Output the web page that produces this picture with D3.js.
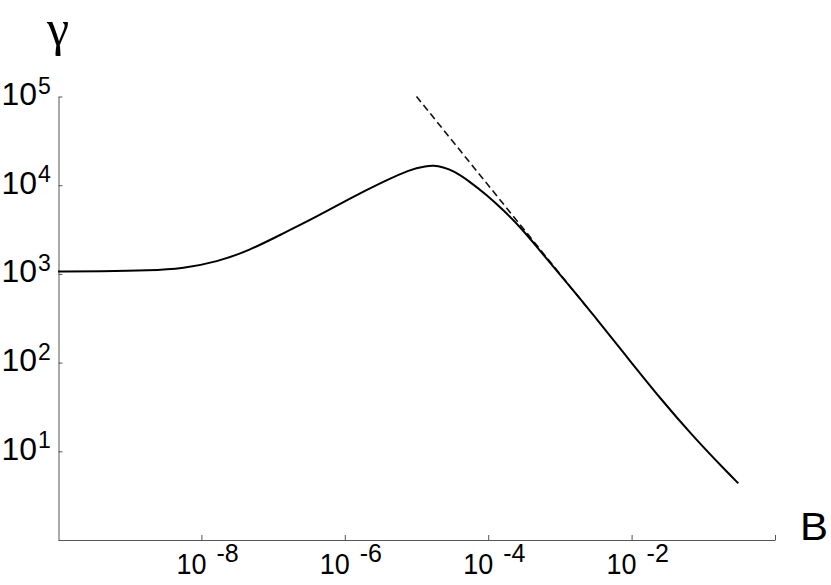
<!DOCTYPE html>
<html><head><meta charset="utf-8">
<script src="https://cdn.jsdelivr.net/npm/d3@7"></script>
<style>body{margin:0;background:#fff}svg{display:block}</style>
</head><body>
<svg id="chart" width="831" height="585"></svg>
<script>
// Curve gamma(B)
const curveB = [1e-10, 3.855e-10, 1.919e-9, 5.598e-9, 1.633e-8, 4.764e-8, 1.387e-7, 4.055e-7, 1.183e-6, 3.443e-6,
  8.11e-6, 1.387e-5, 1.714e-5, 2.366e-5, 3.258e-5, 5.57e-5, 9.53e-5, 1.622e-4, 2.773e-4, 4.75e-4,
  8.09e-4, 1.905e-3, 2.92e-3, 8.55e-3, 2.49e-2, 7.26e-2, 0.212, 0.3076];
const curveGamma = [1064, 1068, 1090, 1155, 1360, 1850, 2870, 4416, 7117, 10950,
  15100, 16480, 16760, 15920, 14560, 10950, 7750, 5250, 3405, 2027,
  1206, 531, 344, 116.6, 39.6, 14.6, 5.89, 4.36];
// Dashed asymptote
const asymptoteB = [1e-5, 2.5e-3];
const asymptoteGamma = [1e5, 400];
// Ticks
const xDomain = [1e-10, 1];
const yDomain = [1, 1e5];
const xTickExponents = [-8, -6, -4, -2];
const xTickExtra = [1];
const yTickExponents = [1, 2, 3, 4, 5];
const xAxisTitle = "B";
const yAxisTitle = "γ";

const svg = d3.select("#chart");
const x = d3.scaleLog().domain(xDomain).range([58, 775]);
const y = d3.scaleLog().domain(yDomain).range([540, 96.5]);
const axisColor = "#555";

// x axis
const xTicks = xTickExponents.map(e => Math.pow(10, e)).concat(xTickExtra);
const gx = svg.append("g").attr("transform", "translate(0,540)")
  .call(d3.axisBottom(x).tickValues(xTicks).tickFormat("").tickSizeInner(-5).tickSizeOuter(0));
gx.select(".domain").attr("stroke", axisColor);
gx.selectAll(".tick line").attr("stroke", axisColor);

// y axis
const gy = svg.append("g").attr("transform", "translate(58.5,0)")
  .call(d3.axisLeft(y).tickValues(yTickExponents.map(e => Math.pow(10, e))).tickFormat("").tickSizeInner(-4).tickSizeOuter(0));
gy.select(".domain").attr("stroke", axisColor);
gy.selectAll(".tick line").attr("stroke", axisColor);

const sans = "'Liberation Sans', Arial, Helvetica, sans-serif";

// x tick labels: 10 ^ exponent
const xl = svg.append("g").attr("font-family", sans).attr("fill", "#000");
xTickExponents.forEach(e => {
  const px = x(Math.pow(10, e));
  xl.append("text").attr("x", px + 5).attr("y", 574).attr("text-anchor", "end")
    .attr("font-size", 29).attr("textLength", 30).attr("lengthAdjust", "spacingAndGlyphs").text("10");
  xl.append("text").attr("x", px + 15).attr("y", 562).attr("font-size", 25).text(String(e));
});

// y tick labels
const yl = svg.append("g").attr("font-family", sans).attr("fill", "#000");
yTickExponents.forEach(e => {
  const py = y(Math.pow(10, e));
  yl.append("text").attr("x", 1.5).attr("y", py + 8.5).attr("font-size", 32)
    .attr("textLength", 35.5).attr("lengthAdjust", "spacingAndGlyphs").text("10");
  yl.append("text").attr("x", 38).attr("y", py - 3).attr("font-size", 23).text(String(e));
});

// axis titles
svg.append("text").attr("x", 58).attr("y", 45).attr("text-anchor", "middle")
  .attr("font-family", "'Liberation Serif', 'DejaVu Serif', 'Times New Roman', serif").attr("font-size", 50).text(yAxisTitle);
svg.append("text").attr("x", 800).attr("y", 540)
  .attr("font-family", sans).attr("font-size", 38)
  .attr("textLength", 28).attr("lengthAdjust", "spacingAndGlyphs").text(xAxisTitle);

// asymptote
const line = d3.line().x(d => x(d[0])).y(d => y(d[1]));
svg.append("path").datum(asymptoteB.map((b, i) => [b, asymptoteGamma[i]]))
  .attr("d", line).attr("fill", "none").attr("stroke", "#111").attr("stroke-width", 1.6)
  .attr("stroke-dasharray", "7,4");

// main curve
const curveLine = d3.line().x(d => x(d[0])).y(d => y(d[1])).curve(d3.curveBasis);
svg.append("path").datum(curveB.map((b, i) => [b, curveGamma[i]]))
  .attr("d", curveLine).attr("fill", "none").attr("stroke", "#000").attr("stroke-width", 2);
</script>
</body></html>
